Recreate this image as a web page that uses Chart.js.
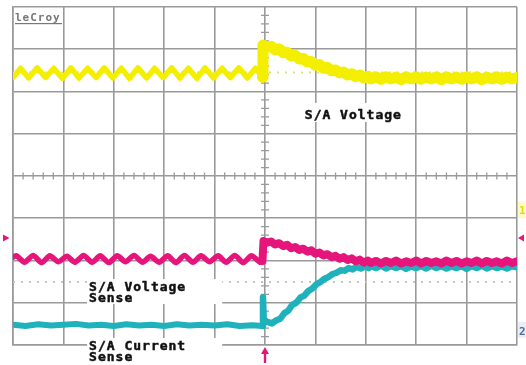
<!DOCTYPE html>
<html>
<head>
<meta charset="utf-8">
<script src="https://cdn.jsdelivr.net/npm/chart.js@4/dist/chart.umd.min.js"></script>
<style>
html, body { margin: 0; padding: 0; background: #fff; }
#wrap { width: 526px; height: 365px; }
</style>
</head>
<body>
<div id="wrap"><canvas id="scope"></canvas></div>
<script>
// screen is 10 x 8 divisions, trigger at about 4.95 div
var yellowPre = [[0,2.33],[0.15,2.55],[0.31,2.32],[0.48,2.56],[0.65,2.33],[0.81,2.55],[0.98,2.31],[1.15,2.56],[1.31,2.32],[1.48,2.55],[1.65,2.33],[1.81,2.56],[1.98,2.32],[2.15,2.55],[2.31,2.31],[2.48,2.56],[2.65,2.32],[2.81,2.55],[2.98,2.33],[3.15,2.56],[3.31,2.32],[3.48,2.55],[3.65,2.31],[3.81,2.56],[3.98,2.32],[4.15,2.55],[4.31,2.33],[4.48,2.56],[4.65,2.32],[4.81,2.55],[4.95,2.34]];
var yellowPost = [[4.95,2.34],[4.96,3.10],[5.04,3.05],[5.12,3.07],[5.2,2.99],[5.28,3.01],[5.36,2.92],[5.44,2.93],[5.52,2.84],[5.6,2.86],[5.68,2.77],[5.76,2.78],[5.84,2.70],[5.92,2.71],[6.0,2.62],[6.08,2.64],[6.16,2.55],[6.24,2.57],[6.32,2.49],[6.4,2.51],[6.48,2.44],[6.56,2.46],[6.64,2.39],[6.72,2.42],[6.8,2.35],[6.88,2.39],[6.96,2.32],[7.04,2.36],[7.1,2.30],[7.2,2.35],[7.3,2.29],[7.4,2.35],[7.5,2.30],[7.6,2.34],[7.7,2.28],[7.8,2.35],[7.9,2.30],[8.0,2.35],[8.1,2.29],[8.2,2.34],[8.3,2.30],[8.4,2.35],[8.5,2.28],[8.6,2.35],[8.7,2.30],[8.8,2.34],[8.9,2.29],[9.0,2.35],[9.1,2.30],[9.2,2.35],[9.3,2.28],[9.4,2.34],[9.5,2.30],[9.6,2.35],[9.7,2.29],[9.8,2.34],[9.9,2.30],[10,2.33]];

var pinkPre = [[0,-1.92],[0.07,-1.89],[0.23,-2.04],[0.40,-1.88],[0.57,-2.05],[0.73,-1.89],[0.90,-2.03],[1.07,-1.90],[1.23,-2.04],[1.40,-1.88],[1.57,-2.04],[1.73,-1.89],[1.90,-2.05],[2.07,-1.89],[2.23,-2.03],[2.40,-1.88],[2.57,-2.04],[2.73,-1.90],[2.90,-2.04],[3.07,-1.89],[3.23,-2.05],[3.40,-1.88],[3.57,-2.04],[3.73,-1.89],[3.90,-2.03],[4.07,-1.89],[4.23,-2.04],[4.40,-1.88],[4.57,-2.05],[4.73,-1.89],[4.90,-2.04],[4.95,-2.01]];
var pinkPost = [[4.95,-2.01],[4.97,-1.54],[5.04,-1.58],[5.12,-1.55],[5.2,-1.62],[5.28,-1.59],[5.36,-1.66],[5.44,-1.63],[5.52,-1.71],[5.6,-1.68],[5.68,-1.75],[5.76,-1.72],[5.84,-1.79],[5.92,-1.76],[6.0,-1.84],[6.08,-1.81],[6.16,-1.88],[6.24,-1.85],[6.32,-1.92],[6.4,-1.89],[6.48,-1.96],[6.56,-1.92],[6.64,-1.99],[6.72,-1.95],[6.8,-2.02],[6.88,-1.98],[6.96,-2.05],[7.04,-2.00],[7.1,-2.06],[7.2,-2.01],[7.3,-2.07],[7.4,-2.01],[7.5,-2.06],[7.6,-2.00],[7.7,-2.07],[7.8,-2.02],[7.9,-2.06],[8.0,-2.00],[8.1,-2.07],[8.2,-2.01],[8.3,-2.06],[8.4,-2.02],[8.5,-2.07],[8.6,-2.00],[8.7,-2.06],[8.8,-2.01],[8.9,-2.07],[9.0,-2.02],[9.1,-2.06],[9.2,-2.00],[9.3,-2.07],[9.4,-2.01],[9.5,-2.06],[9.6,-2.02],[9.7,-2.07],[9.8,-2.00],[9.9,-2.06],[10,-2.02]];

var cyanPre = [[0,-3.52],[0.25,-3.55],[0.5,-3.51],[0.75,-3.54],[1.0,-3.52],[1.25,-3.50],[1.5,-3.54],[1.75,-3.52],[2.0,-3.55],[2.25,-3.51],[2.5,-3.54],[2.75,-3.52],[3.0,-3.55],[3.25,-3.51],[3.5,-3.54],[3.75,-3.52],[4.0,-3.54],[4.25,-3.51],[4.5,-3.55],[4.75,-3.53],[4.95,-3.55]];
var cyanPost = [[4.95,-3.55],[4.96,-2.87],[4.975,-3.40],[5.06,-3.46],[5.14,-3.49],[5.22,-3.42],[5.30,-3.38],[5.38,-3.25],[5.46,-3.19],[5.54,-3.05],[5.62,-3.00],[5.70,-2.88],[5.78,-2.83],[5.86,-2.72],[5.94,-2.66],[6.02,-2.56],[6.10,-2.51],[6.18,-2.43],[6.26,-2.39],[6.34,-2.32],[6.42,-2.29],[6.50,-2.23],[6.58,-2.24],[6.66,-2.18],[6.74,-2.21],[6.82,-2.15],[6.90,-2.19],[6.98,-2.14],[7.06,-2.18],[7.1,-2.13],[7.2,-2.18],[7.3,-2.12],[7.4,-2.19],[7.5,-2.13],[7.6,-2.18],[7.7,-2.13],[7.8,-2.20],[7.9,-2.14],[8.0,-2.18],[8.1,-2.13],[8.2,-2.19],[8.3,-2.12],[8.4,-2.18],[8.5,-2.13],[8.6,-2.19],[8.7,-2.14],[8.8,-2.18],[8.9,-2.13],[9.0,-2.20],[9.1,-2.13],[9.2,-2.18],[9.3,-2.12],[9.4,-2.19],[9.5,-2.13],[9.6,-2.18],[9.7,-2.14],[9.8,-2.19],[9.9,-2.13],[10,-2.16]];

// dotted reference levels
var refYellow = [[0,2.45],[10,2.45]];
var refGrey = [[0,-2.51],[10,-2.51]];

var YELLOW = '#f4ee00';
var PINK = '#e6157b';
var CYAN = '#1fb2bd';
var GRID = '#9a9a9a';

function pts(arr) {
    return arr.map(function (p) { return { x: p[0], y: p[1] }; });
}

function trace(arr, color, width, order, tension) {
    return {
        data: pts(arr),
        showLine: true,
        borderColor: color,
        borderWidth: width,
        pointRadius: 0,
        tension: tension || 0,
        borderJoinStyle: 'round',
        borderCapStyle: 'round',
        order: order
    };
}

function boldText(ctx, txt, x, y) {
    ctx.fillText(txt, x, y);
    ctx.strokeText(txt, x, y);
}

var scopeExtras = {
    id: 'scopeExtras',
    beforeDatasetsDraw: function (chart) {
        var ctx = chart.ctx;
        var sx = chart.scales.x, sy = chart.scales.y;
        var cx = sx.getPixelForValue(5), cy = sy.getPixelForValue(0);
        ctx.save();
        ctx.strokeStyle = GRID;
        ctx.lineWidth = 1.3;
        ctx.beginPath();
        for (var i = 1; i < 50; i++) {
            if (i % 5 === 0) continue;
            var x = sx.getPixelForValue(i / 5);
            ctx.moveTo(x, cy - 3.5); ctx.lineTo(x, cy + 3.5);
        }
        for (var j = -19; j < 20; j++) {
            if (j % 5 === 0) continue;
            var y = sy.getPixelForValue(j / 5);
            ctx.moveTo(cx - 4, y); ctx.lineTo(cx + 4, y);
        }
        ctx.stroke();
        ctx.restore();
    },
    afterDraw: function (chart) {
        var ctx = chart.ctx;
        var ca = chart.chartArea;
        var sx = chart.scales.x, sy = chart.scales.y;
        function px(v) { return sx.getPixelForValue(v); }
        function py(v) { return sy.getPixelForValue(v); }
        ctx.save();

        // label boxes hide the grid behind them
        ctx.fillStyle = '#fff';
        ctx.fillRect(px(5.69), py(1.73), px(7.8) - px(5.69), py(1.28) - py(1.73));
        ctx.fillRect(px(1.47), py(-2.44), px(4.15) - px(1.47), py(-3.03) - py(-2.44));
        ctx.fillRect(px(1.47), ca.bottom - 7, px(4.15) - px(1.47), 30);

        ctx.fillStyle = '#111';
        ctx.strokeStyle = '#111';
        ctx.lineWidth = 0.5;
        ctx.font = 'bold 13px "DejaVu Sans Mono"';
        ctx.letterSpacing = '1px';
        ctx.textBaseline = 'alphabetic';
        boldText(ctx, 'S/A Voltage', px(5.79), py(1.36));
        boldText(ctx, 'S/A Voltage', px(1.51), py(-2.72));
        boldText(ctx, 'Sense', px(1.51), py(-2.98));
        boldText(ctx, 'S/A Current', px(1.51), ca.bottom + 5);
        boldText(ctx, 'Sense', px(1.51), ca.bottom + 16);

        // LeCroy tag
        ctx.fillStyle = '#777';
        ctx.font = 'bold 11px "DejaVu Sans Mono"';
        ctx.letterSpacing = '1px';
        ctx.fillText('leCroy', ca.left + 2, ca.top + 14);
        ctx.fillRect(ca.left + 2, ca.top + 16, 47, 1.2);
        ctx.letterSpacing = '0px';

        // channel markers
        var my = py(-1.47);
        ctx.fillStyle = PINK;
        ctx.beginPath();
        ctx.moveTo(3, my - 3.5); ctx.lineTo(9.5, my); ctx.lineTo(3, my + 3.5);
        ctx.fill();
        ctx.beginPath();
        ctx.moveTo(ca.right + 7, my - 3.5); ctx.lineTo(ca.right + 1, my); ctx.lineTo(ca.right + 7, my + 3.5);
        ctx.fill();

        ctx.fillStyle = '#fbfbc9';
        ctx.fillRect(ca.right + 1, py(-0.6), 9, 17);
        ctx.fillStyle = '#e2dc00';
        ctx.font = 'bold 11px "DejaVu Sans Mono"';
        ctx.fillText('1', ca.right + 2, py(-0.6) + 13);

        ctx.fillStyle = '#e9edf5';
        ctx.fillRect(ca.right + 1, py(-3.45), 9, 16);
        ctx.fillStyle = '#55699a';
        ctx.fillText('2', ca.right + 2, py(-3.45) + 13);

        // trigger arrow
        var tx = px(5);
        ctx.fillStyle = PINK;
        ctx.beginPath();
        ctx.moveTo(tx, ca.bottom + 2); ctx.lineTo(tx + 4, ca.bottom + 9); ctx.lineTo(tx - 4, ca.bottom + 9);
        ctx.fill();
        ctx.fillRect(tx - 1.2, ca.bottom + 8, 2.4, 10);
        ctx.restore();
    }
};

var ctx = document.getElementById('scope').getContext('2d');
var scopeChart = new Chart(ctx, {
    type: 'scatter',
    data: {
        datasets: [
            trace(yellowPre, YELLOW, 5.5, 3, 0),
            trace(yellowPost, YELLOW, 11, 3, 0),
            trace(pinkPre, PINK, 5.5, 1, 0.25),
            trace(pinkPost, PINK, 8, 1, 0),
            trace(cyanPre, CYAN, 6, 2, 0),
            trace(cyanPost, CYAN, 6.5, 2, 0),
            Object.assign(trace(refYellow, '#e6e07a', 2, 9, 0), { borderDash: [2, 6], borderCapStyle: 'butt' }),
            Object.assign(trace(refGrey, '#c4c4c4', 2, 9, 0), { borderDash: [2, 6], borderCapStyle: 'butt' })
        ]
    },
    options: {
        responsive: true,
        maintainAspectRatio: false,
        animation: false,
        events: [],
        layout: { padding: { left: 13, right: 9, top: 7, bottom: 20 } },
        plugins: { legend: { display: false }, tooltip: { enabled: false } },
        scales: {
            x: {
                type: 'linear', min: 0, max: 10,
                ticks: { display: false, stepSize: 1 },
                grid: { color: GRID, lineWidth: 1.6, drawTicks: false },
                border: { display: true, color: GRID, width: 1.6 }
            },
            y: {
                type: 'linear', min: -4, max: 4,
                ticks: { display: false, stepSize: 1 },
                grid: { color: GRID, lineWidth: 1.6, drawTicks: false },
                border: { display: true, color: GRID, width: 1.6 }
            }
        }
    },
    plugins: [scopeExtras]
});
</script>
</body>
</html>
